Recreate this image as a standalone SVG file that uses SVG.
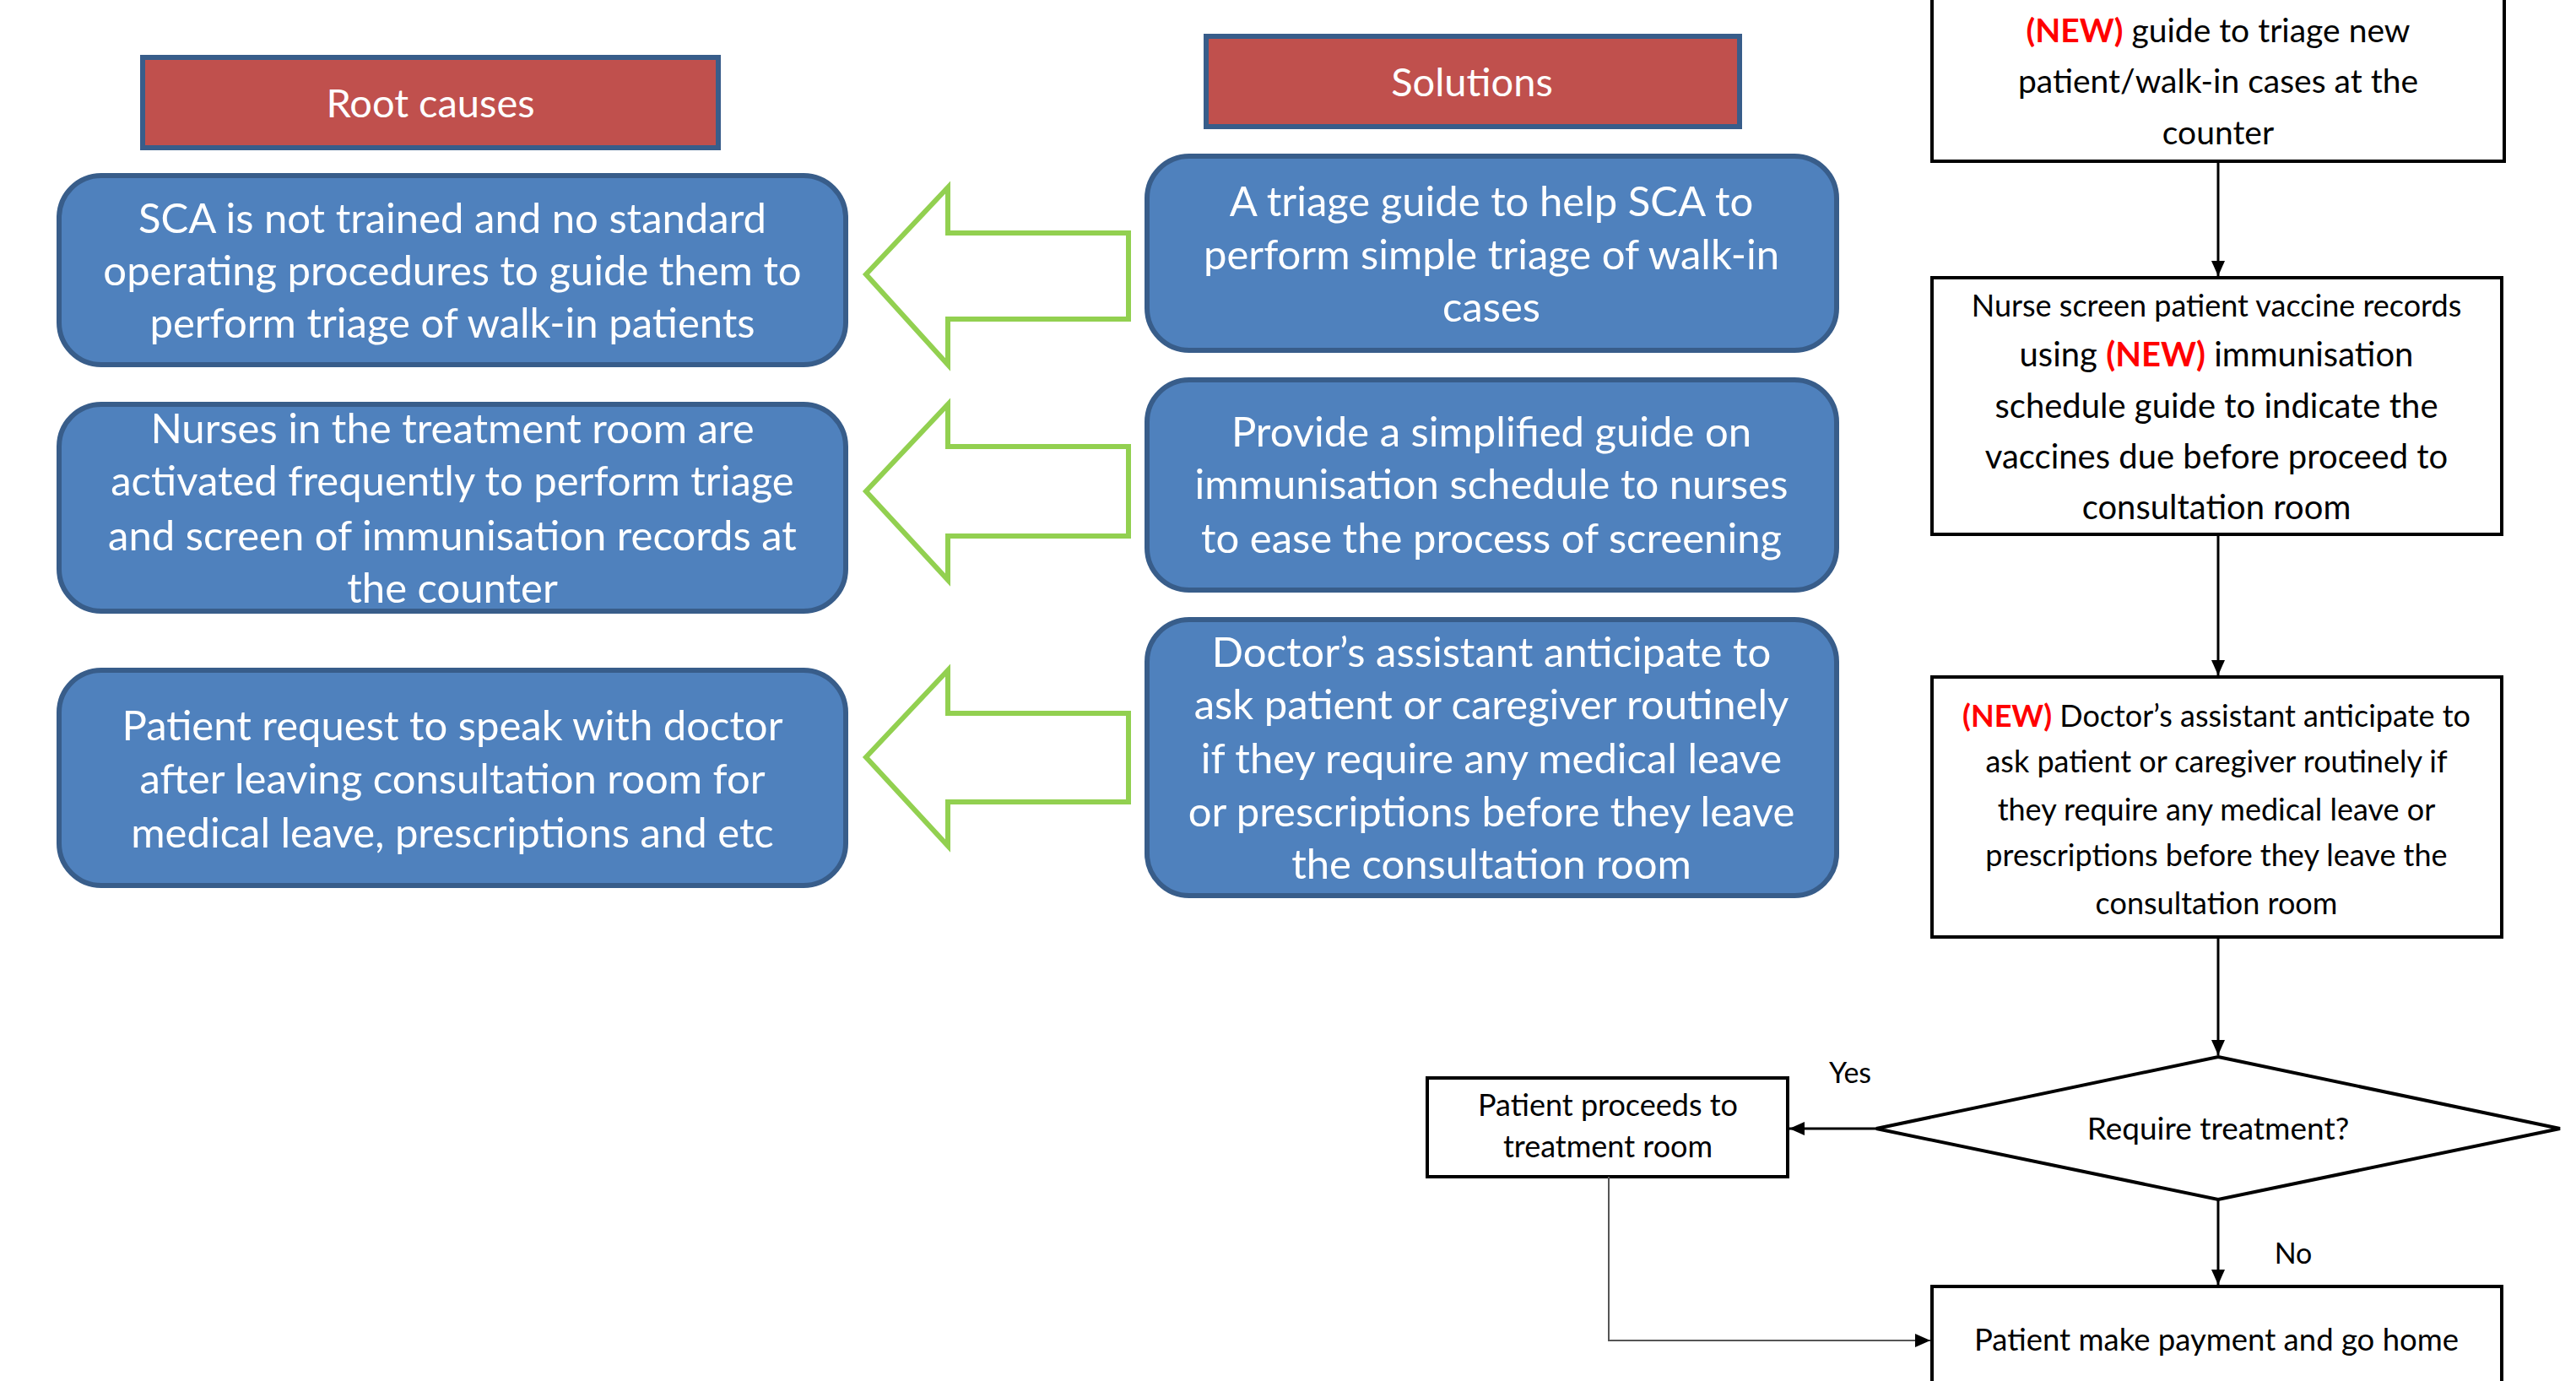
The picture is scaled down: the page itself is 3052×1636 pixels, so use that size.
<svg xmlns="http://www.w3.org/2000/svg" width="3052" height="1636" viewBox="0 0 3052 1636">
<defs>
<style>
.hdr{fill:#C0504D;stroke:#385D8A;stroke-width:6}
.blue{fill:#4F81BD;stroke:#385D8A;stroke-width:6}
.garrow{fill:#FFFFFF;stroke:#92D050;stroke-width:6}
.fbox{fill:#FFFFFF;stroke:#000000;stroke-width:4}
.wt{font-family:Lato,"Open Sans",sans-serif;fill:#FFFFFF;text-anchor:middle}
.bt{font-family:Lato,"Open Sans",sans-serif;fill:#000000;text-anchor:middle}
.new{fill:#FF0000;font-weight:bold}
.conn{stroke:#000000;stroke-width:3;fill:none}
.thin{stroke:#555555;stroke-width:2;fill:none}
</style>
<marker id="ah" markerUnits="userSpaceOnUse" markerWidth="20" markerHeight="18" refX="18" refY="8" orient="auto">
<path d="M0,0 L18,8 L0,16 Z" fill="#000000"/>
</marker>
</defs>
<rect width="3052" height="1636" fill="#FFFFFF"/>

<g id="root-causes-header">
<rect class="hdr" x="169" y="68" width="682" height="107"/>
<text class="wt" x="510" y="139" font-size="47">Root causes</text>
</g>
<g id="solutions-header">
<rect class="hdr" x="1429" y="43" width="632" height="107"/>
<text class="wt" x="1744" y="114" font-size="47">Solutions</text>
</g>

<g id="cause1">
<rect class="blue" x="70" y="208" width="932" height="224" rx="50"/>
<text class="wt" font-size="49"><tspan x="536" y="276">SCA is not trained and no standard</tspan><tspan x="536" y="338">operating procedures to guide them to</tspan><tspan x="536" y="400">perform triage of walk-in patients</tspan></text>
</g>
<g id="cause2">
<rect class="blue" x="70" y="479" width="932" height="245" rx="50"/>
<text class="wt" font-size="49"><tspan x="536" y="525">Nurses in the treatment room are</tspan><tspan x="536" y="587">activated frequently to perform triage</tspan><tspan x="536" y="652">and screen of immunisation records at</tspan><tspan x="536" y="714">the counter</tspan></text>
</g>
<g id="cause3">
<rect class="blue" x="70" y="794" width="932" height="255" rx="50"/>
<text class="wt" font-size="49"><tspan x="536" y="877">Patient request to speak with doctor</tspan><tspan x="536" y="940">after leaving consultation room for</tspan><tspan x="536" y="1004">medical leave, prescriptions and etc</tspan></text>
</g>

<g id="solution1">
<rect class="blue" x="1359" y="185" width="817" height="230" rx="50"/>
<text class="wt" font-size="49"><tspan x="1767" y="256">A triage guide to help SCA to</tspan><tspan x="1767" y="319">perform  simple triage of walk-in</tspan><tspan x="1767" y="381">cases</tspan></text>
</g>
<g id="solution2">
<rect class="blue" x="1359" y="450" width="817" height="249" rx="50"/>
<text class="wt" font-size="49"><tspan x="1767" y="529">Provide a simplified guide on</tspan><tspan x="1767" y="591">immunisation schedule to nurses</tspan><tspan x="1767" y="655">to ease the process of screening</tspan></text>
</g>
<g id="solution3">
<rect class="blue" x="1359" y="734" width="817" height="327" rx="50"/>
<text class="wt" font-size="49"><tspan x="1767" y="790">Doctor’s assistant anticipate to</tspan><tspan x="1767" y="852">ask patient or caregiver routinely</tspan><tspan x="1767" y="916">if they require any medical leave</tspan><tspan x="1767" y="979">or prescriptions before they leave</tspan><tspan x="1767" y="1041">the consultation room</tspan></text>
</g>

<g id="green-arrows">
<path class="garrow" d="M1026,325 L1123,222 L1123,276 L1337,276 L1337,378 L1123,378 L1123,432 Z"/>
<path class="garrow" d="M1026,582 L1123,479 L1123,529 L1337,529 L1337,635 L1123,635 L1123,687 Z"/>
<path class="garrow" d="M1026,897 L1123,794 L1123,845 L1337,845 L1337,950 L1123,950 L1123,1002 Z"/>
</g>

<g id="flow-triage">
<rect class="fbox" x="2289" y="-10" width="678" height="201"/>
<text class="bt" font-size="39"><tspan x="2628" y="50"><tspan class="new">(NEW)</tspan> guide to triage new</tspan><tspan x="2628" y="110">patient/walk-in cases at the</tspan><tspan x="2628" y="171">counter</tspan></text>
</g>
<g id="flow-nurse">
<rect class="fbox" x="2289" y="329" width="675" height="304"/>
<text class="bt" font-size="40"><tspan x="2626" y="375" font-size="36">Nurse screen patient vaccine records</tspan><tspan x="2626" y="434">using <tspan class="new">(NEW)</tspan> immunisation</tspan><tspan x="2626" y="495">schedule guide to indicate the</tspan><tspan x="2626" y="555">vaccines due before proceed to</tspan><tspan x="2626" y="615">consultation room</tspan></text>
</g>
<g id="flow-doctor">
<rect class="fbox" x="2289" y="802" width="675" height="308"/>
<text class="bt" font-size="36"><tspan x="2626" y="861"><tspan class="new">(NEW)</tspan> Doctor’s assistant anticipate to</tspan><tspan x="2626" y="915">ask patient or caregiver routinely if</tspan><tspan x="2626" y="972">they require any medical leave or</tspan><tspan x="2626" y="1026">prescriptions before they leave the</tspan><tspan x="2626" y="1083">consultation room</tspan></text>
</g>
<g id="flow-decision">
<path class="fbox" d="M2628,1252 L3033,1337 L2628,1421 L2223,1337 Z"/>
<text class="bt" x="2628" y="1350" font-size="37">Require treatment?</text>
</g>
<g id="flow-treatment">
<rect class="fbox" x="1691" y="1277" width="427" height="117"/>
<text class="bt" font-size="36"><tspan x="1905" y="1322">Patient proceeds to</tspan><tspan x="1905" y="1371">treatment room</tspan></text>
</g>
<g id="flow-payment">
<rect class="fbox" x="2289" y="1524" width="675" height="130"/>
<text class="bt" x="2626" y="1600" font-size="36.5">Patient make payment and go home</text>
</g>

<g id="connectors">
<line class="conn" x1="2628" y1="191" x2="2628" y2="327" marker-end="url(#ah)"/>
<line class="conn" x1="2628" y1="633" x2="2628" y2="800" marker-end="url(#ah)"/>
<line class="conn" x1="2628" y1="1110" x2="2628" y2="1250" marker-end="url(#ah)"/>
<line class="conn" x1="2223" y1="1337" x2="2120" y2="1337" marker-end="url(#ah)"/>
<line class="conn" x1="2628" y1="1421" x2="2628" y2="1522" marker-end="url(#ah)"/>
<polyline class="thin" points="1906,1394 1906,1588 2287,1588" marker-end="url(#ah)"/>
<text class="bt" x="2192" y="1283" font-size="34">Yes</text>
<text class="bt" x="2717" y="1497" font-size="34">No</text>
</g>
</svg>
